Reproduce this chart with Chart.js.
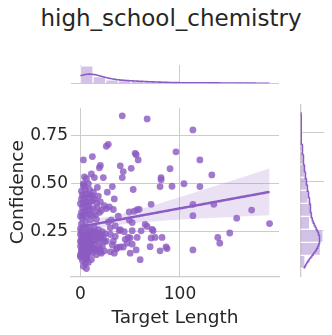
<!DOCTYPE html>
<html><head><meta charset="utf-8">
<script src="https://cdn.jsdelivr.net/npm/chart.js@4.4.1/dist/chart.umd.min.js"></script>
<style>
html,body{margin:0;padding:0;background:#fff;}
body{width:332px;height:335px;position:relative;overflow:hidden;}
canvas{position:absolute;}
#title{position:absolute;left:0;width:342px;top:5px;line-height:27px;text-align:center;font-family:"DejaVu Sans";font-size:23px;color:#262626;white-space:nowrap;}
</style></head><body>
<div id="title">high_school_chemistry</div>
<canvas id="top" width="208" height="25" style="left:71px;top:59px;width:208px;height:25px"></canvas>
<canvas id="main" width="290" height="240" style="left:0px;top:95px;width:290px;height:240px"></canvas>
<canvas id="right" width="35" height="180" style="left:295px;top:100px;width:35px;height:180px"></canvas>
<script>
// ---- data ----
const targetLength = [
42,67,113,28,26,3,12,96,55,56,58,20,19,40,43,51,42,120,90,132,4,81,81,104,80,92,120,3,4,14,23,32,53,27,12,34,29,26,33,57,59,54,71,49,113,134,172,113,157,190,150,138,140,113,86,87,80,82,75,70,73,72,65,61,52,52,49,48,50,57,60,56,50,45,43,40,37,39,34,21,30,33,30,35,47,
30,35,40,44,36,32,26,28,31,38,67,52,71,
3,5,2,8,4,11,6,1,6,
0,2,4,7,9,12,15,1,3,5,8,10,13,17,0,2,6,9,11,14,19,22,4,7,1,16,24,20,
0,3,5,8,10,12,15,18,21,24,1,4,6,9,11,14,17,20,23,2,0,3,5,7,10,13,16,19,22,25,1,4,8,12,2,6,0,14,3,9,18,7,
0,1,2,3,4,5,6,7,8,9,10,2,4,6,
1,5,10,2,16,
0,3,6,9,12,15,19,1,4,7,10,13,2,5,8,17,21,24,
0,3,6,9,12,16,20,1,4,8,14,2,6,10,18,
1,5,9,13,17,3,8,
6,11
];
const confidence = [
0.852,0.836,0.779,0.704,0.694,0.623,0.640,0.665,0.657,0.650,0.623,0.594,0.582,0.592,0.562,0.579,0.531,0.623,0.577,0.545,0.535,0.531,0.520,0.499,0.484,0.486,0.484,0.500,0.488,0.531,0.531,0.484,0.469,0.455,0.436,0.420,0.379,0.370,0.365,0.364,0.366,0.356,0.392,0.352,0.392,0.392,0.362,0.333,0.320,0.292,0.243,0.220,0.190,0.155,0.170,0.162,0.150,0.220,0.220,0.172,0.255,0.262,0.287,0.254,0.255,0.297,0.310,0.220,0.218,0.220,0.104,0.155,0.138,0.210,0.170,0.170,0.168,0.255,0.138,0.138,0.145,0.200,0.235,0.225,0.190,
0.270,0.280,0.260,0.250,0.160,0.180,0.200,0.300,0.310,0.330,0.277,0.185,0.217,
0.070,0.085,0.100,0.090,0.110,0.105,0.115,0.120,0.058,
0.130,0.135,0.140,0.130,0.145,0.140,0.150,0.155,0.160,0.165,0.160,0.170,0.165,0.160,0.175,0.180,0.175,0.185,0.180,0.185,0.170,0.175,0.190,0.190,0.195,0.130,0.150,0.145,
0.200,0.200,0.205,0.200,0.210,0.200,0.205,0.200,0.210,0.200,0.215,0.220,0.215,0.225,0.220,0.225,0.220,0.230,0.225,0.230,0.235,0.240,0.235,0.240,0.245,0.240,0.245,0.240,0.250,0.240,0.250,0.250,0.255,0.255,0.260,0.260,0.265,0.270,0.275,0.265,0.260,0.210,
0.120,0.150,0.170,0.210,0.130,0.190,0.230,0.140,0.220,0.180,0.160,0.240,0.200,0.110,
0.290,0.300,0.310,0.320,0.315,
0.330,0.335,0.330,0.340,0.335,0.340,0.350,0.350,0.355,0.360,0.365,0.370,0.375,0.380,0.385,0.375,0.360,0.385,
0.395,0.400,0.405,0.400,0.410,0.400,0.405,0.420,0.425,0.430,0.420,0.440,0.445,0.440,0.435,
0.460,0.465,0.470,0.455,0.480,0.490,0.500,
0.525,0.550
];
const xTicks = [0, 100];
const yTicks = [0.25, 0.50, 0.75];
const xBins = 15, yBins = 12;
const xLabel = 'Target Length', yLabel = 'Confidence';

// ---- style ----
const TXT = '#262626', GRID = '#cccccc';
const PT = 'rgba(140,92,194,0.82)', LINE = '#8a5cc4';
const BAND = 'rgba(150,110,200,0.2)', HIST = 'rgba(150,110,200,0.42)';
const FONT = 'DejaVu Sans';
const CI_Z = 2.7; // widened to approximate the bootstrap band of the reference

// ---- derived ----
const n = targetLength.length;
const pts = targetLength.map((x,i)=>({x, y: confidence[i]}));
const xmin = Math.min(...targetLength), xmax = Math.max(...targetLength);
const ymin = Math.min(...confidence), ymax = Math.max(...confidence);
const xlo = xmin - 0.05*(xmax-xmin), xhi = xmax + 0.05*(xmax-xmin);
const ylo = ymin - 0.05*(ymax-ymin), yhi = ymax + 0.05*(ymax-ymin);

const mean = a => a.reduce((s,v)=>s+v,0)/a.length;
const mx = mean(targetLength), my = mean(confidence);
let sxx=0, sxy=0; for(let i=0;i<n;i++){sxx+=(targetLength[i]-mx)**2; sxy+=(targetLength[i]-mx)*(confidence[i]-my);}
const b1 = sxy/sxx, b0 = my - b1*mx;
let sse=0; for(let i=0;i<n;i++){sse+=(confidence[i]-b0-b1*targetLength[i])**2;}
const s = Math.sqrt(sse/(n-2));
const fit=[], lower=[], upper=[];
for(let k=0;k<=100;k++){
  const x = xmin + (xmax-xmin)*k/100, yh = b0+b1*x;
  const se = s*Math.sqrt(1/n + (x-mx)**2/sxx);
  fit.push({x,y:yh}); lower.push({x,y:yh-CI_Z*se}); upper.push({x,y:yh+CI_Z*se});
}
function hist(arr, nb){
  const lo=Math.min(...arr), hi=Math.max(...arr), w=(hi-lo)/nb, c=new Array(nb).fill(0);
  arr.forEach(v=>{let k=Math.floor((v-lo)/w); if(k>=nb)k=nb-1; c[k]++;});
  return {lo,hi,w,counts:c, centers:c.map((_,k)=>lo+w*(k+0.5))};
}
function kde(arr, w){
  const m=mean(arr), sd=Math.sqrt(arr.reduce((t,v)=>t+(v-m)**2,0)/(arr.length-1));
  const bw = sd*Math.pow(arr.length,-0.2), lo=Math.min(...arr), hi=Math.max(...arr), out=[];
  for(let k=0;k<=200;k++){const x=lo+(hi-lo)*k/200; let d=0; arr.forEach(v=>{d+=Math.exp(-0.5*((x-v)/bw)**2);});
    d = d/(arr.length*bw*Math.sqrt(2*Math.PI)); out.push([x, d*arr.length*w]);}
  return out;
}
const hx = hist(targetLength, xBins), hy = hist(confidence, yBins);
const kx = kde(targetLength, hx.w), ky = kde(confidence, hy.w);
const maxHX = Math.max(...hx.counts, ...kx.map(p=>p[1]));
const maxHY = Math.max(...hy.counts, ...ky.map(p=>p[1]));

Chart.defaults.font.family = FONT;
const common = {responsive:false, animation:false, devicePixelRatio:1, events:[],
  plugins:{legend:{display:false}, tooltip:{enabled:false}}};

new Chart(document.getElementById('main'), {
  type:'scatter',
  data:{datasets:[
    {data:pts, backgroundColor:PT, borderWidth:0, pointRadius:3.4, order:4},
    {data:lower, showLine:true, pointRadius:0, borderWidth:0, fill:false, order:3},
    {data:upper, showLine:true, pointRadius:0, borderWidth:0, fill:'-1', backgroundColor:BAND, order:2},
    {data:fit, showLine:true, pointRadius:0, borderColor:LINE, borderWidth:2.5, order:1}
  ]},
  options:{...common,
    layout:{padding:{left:0,right:11,top:9.5,bottom:0}},
    scales:{
      x:{type:'linear', min:xlo, max:xhi,
        afterBuildTicks:sc=>{sc.ticks=xTicks.map(v=>({value:v}));},
        afterFit:sc=>{sc.height=58.8;},
        grid:{color:GRID, lineWidth:1, drawTicks:false},
        border:{display:true, color:GRID, width:1.3},
        ticks:{padding:8, color:TXT, font:{size:17}, maxRotation:0, callback:v=>String(v)},
        title:{display:true, text:xLabel, color:TXT, font:{size:18.5}, padding:{top:0,bottom:5.4}}},
      y:{type:'linear', min:ylo, max:yhi,
        afterBuildTicks:sc=>{sc.ticks=yTicks.map(v=>({value:v}));},
        afterFit:sc=>{sc.width=71;},
        grid:{color:GRID, lineWidth:1, drawTicks:false},
        border:{display:false},
        ticks:{padding:3, color:TXT, font:{size:17}, callback:v=>Number(v).toFixed(2)},
        title:{display:true, text:yLabel, color:TXT, font:{size:18.5}, padding:{top:7.5,bottom:0}}}
    }}
});

new Chart(document.getElementById('top'), {
  type:'bar',
  data:{datasets:[
    {type:'bar', data:hx.centers.map((c,k)=>({x:c,y:hx.counts[k]})), backgroundColor:HIST, borderColor:'#ffffff', borderWidth:1, barPercentage:1, categoryPercentage:1, order:2},
    {type:'scatter', data:kx.map(p=>({x:p[0],y:p[1]})), showLine:true, pointRadius:0, borderColor:LINE, borderWidth:1.6, order:1}
  ]},
  options:{...common,
    layout:{padding:{left:0,right:0,top:6,bottom:0.7}},
    scales:{
      x:{type:'linear', min:xlo, max:xhi, offset:false,
        afterBuildTicks:sc=>{sc.ticks=xTicks.map(v=>({value:v}));},
        afterFit:sc=>{sc.height=0;},
        ticks:{display:false}, grid:{color:GRID, drawTicks:false, offset:false},
        border:{display:true, color:GRID, width:1.3}},
      y:{type:'linear', min:0, max:maxHX*1.05, display:false}
    }}
});

new Chart(document.getElementById('right'), {
  type:'bar',
  data:{datasets:[
    {type:'bar', data:hy.centers.map((c,k)=>({y:c,x:hy.counts[k]})), backgroundColor:HIST, borderColor:'#ffffff', borderWidth:1, barPercentage:1, categoryPercentage:1, order:2},
    {type:'scatter', data:ky.map(p=>({y:p[0],x:p[1]})), showLine:true, pointRadius:0, borderColor:LINE, borderWidth:1.6, order:1}
  ]},
  options:{...common, indexAxis:'y',
    layout:{padding:{left:5.5,right:5.7,top:4.5,bottom:3.8}},
    scales:{
      y:{type:'linear', min:ylo, max:yhi, offset:false,
        afterBuildTicks:sc=>{sc.ticks=yTicks.map(v=>({value:v}));},
        afterFit:sc=>{sc.width=0;},
        ticks:{display:false}, grid:{color:GRID, drawTicks:false, offset:false},
        border:{display:true, color:GRID, width:1.3}},
      x:{type:'linear', min:0, max:maxHY*1.05, display:false}
    }}
});
</script>
</body></html>
